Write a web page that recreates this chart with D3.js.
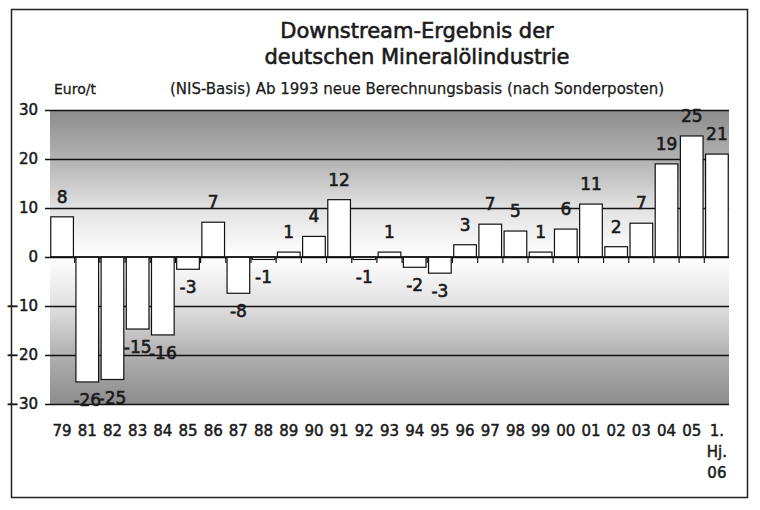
<!DOCTYPE html>
<html>
<head>
<meta charset="utf-8">
<script src="https://cdn.jsdelivr.net/npm/d3@7"></script>
<style>
  body { margin: 0; background: #fff; }
  text { font-family: "DejaVu Sans", sans-serif; fill: #1a1a1a; }
</style>
</head>
<body>
<div id="main"></div>
<script>
// Daten: Downstream-Ergebnis in Euro/t
var kategorien = ["79", "81", "82", "83", "84", "85", "86", "87", "88", "89", "90", "91", "92", "93",
	"94", "95", "96", "97", "98", "99", "00", "01", "02", "03", "04", "05", "1. Hj. 06"];
var werte = [8.2, -25.5, -25.0, -14.7, -15.9, -2.5, 7.1, -7.4, -0.5, 1.0, 4.2, 11.7, -0.5, 1.0,
	-2.1, -3.3, 2.5, 6.7, 5.3, 1.0, 5.7, 10.8, 2.1, 6.9, 19.0, 24.7, 21.0];
var beschriftung = ["8", "-26", "-25", "-15", "-16", "-3", "7", "-8", "-1", "1", "4", "12", "-1", "1",
	"-2", "-3", "3", "7", "5", "1", "6", "11", "2", "7", "19", "25", "21"];
var yTicks = [-30, -20, -10, 0, 10, 20, 30];

// Konstanten für das Layout
var totalWidth = 760;
var totalHeight = 510;
var plotLeft = 50;
var plotRight = 729;
var plotTop = 110;
var plotBottom = 404;

var svg = d3.select("#main").append("svg")
	.attr("width", totalWidth)
	.attr("height", totalHeight);

var x = d3.scaleBand()
	.domain(kategorien)
	.range([plotLeft, plotRight])
	.paddingInner(0.1)
	.paddingOuter(0.03);

var y = d3.scaleLinear()
	.domain([-30, 30])
	.range([plotBottom, plotTop]);

// Rahmen um das Ganze
svg.append("rect")
	.attr("x", 11.5).attr("y", 9.5)
	.attr("width", 736).attr("height", 488)
	.attr("fill", "none")
	.attr("stroke", "#222")
	.attr("stroke-width", 1.5);

// Hintergrund mit Verlauf (oben und unten dunkel, bei 0 weiss)
var defs = svg.append("defs");
var verlauf = defs.append("linearGradient")
	.attr("id", "verlauf")
	.attr("gradientUnits", "userSpaceOnUse")
	.attr("x1", 0).attr("x2", 0)
	.attr("y1", y(30)).attr("y2", y(-30));
[[30, "#8c8c8c"], [20, "#b2b2b2"], [10, "#e2e2e2"], [0, "#ffffff"],
	[-10, "#e0e0e0"], [-20, "#b0b0b0"], [-30, "#8c8c8c"]].forEach(function(s) {
	verlauf.append("stop")
		.attr("offset", (30 - s[0]) / 60)
		.attr("stop-color", s[1]);
});

svg.append("rect")
	.attr("x", plotLeft).attr("y", y(30))
	.attr("width", plotRight - plotLeft)
	.attr("height", y(-30) - y(30))
	.attr("fill", "url(#verlauf)");

// Gitterlinien und y-Achse
var yAxis = d3.axisLeft(y)
	.tickValues(yTicks)
	.tickSize(-(plotRight - plotLeft) - 5)
	.tickPadding(5)
	.tickFormat(d3.format("d"));

var gy = svg.append("g")
	.attr("transform", "translate(" + plotLeft + ",0)")
	.call(yAxis);
gy.select(".domain").remove();
gy.selectAll(".tick line")
	.attr("x1", -5)
	.attr("x2", plotRight - plotLeft)
	.attr("stroke", "#111")
	.attr("stroke-width", 1.4);
gy.selectAll(".tick text")
	.attr("x", -12)
	.style("font-size", "15px")
	.style("font-family", "'DejaVu Sans', sans-serif")
	.attr("fill", "#1a1a1a")
	.attr("stroke", "#1a1a1a")
	.attr("stroke-width", 0.5);

// Balken
svg.selectAll("rect.balken")
	.data(werte)
	.enter().append("rect")
	.attr("class", "balken")
	.attr("x", function(d, i) { return x(kategorien[i]); })
	.attr("width", x.bandwidth())
	.attr("y", function(d) { return y(Math.max(0, d)); })
	.attr("height", function(d) { return Math.abs(y(d) - y(0)); })
	.attr("fill", "#fff")
	.attr("stroke", "#111")
	.attr("stroke-width", 1.2);

// Nulllinie mit Teilstrichen zwischen den Kategorien
svg.append("line")
	.attr("x1", plotLeft).attr("x2", plotRight)
	.attr("y1", y(0)).attr("y2", y(0))
	.attr("stroke", "#111")
	.attr("stroke-width", 1.4);

var grenzen = kategorien.slice(1).map(function(k) {
	return x(k) - x.step() * x.paddingInner() / 2;
});
svg.selectAll("line.teil")
	.data(grenzen)
	.enter().append("line")
	.attr("class", "teil")
	.attr("x1", function(d) { return d; })
	.attr("x2", function(d) { return d; })
	.attr("y1", y(0))
	.attr("y2", y(0) + 6)
	.attr("stroke", "#111")
	.attr("stroke-width", 1.2);

// Werte an den Balken
svg.selectAll("text.wert")
	.data(werte)
	.enter().append("text")
	.attr("class", "wert")
	.attr("text-anchor", "middle")
	.attr("x", function(d, i) { return x(kategorien[i]) + x.bandwidth() / 2; })
	.attr("y", function(d) { return d >= 0 ? y(d) - 20 + 6 : y(d) + 18 + 6; })
	.attr("stroke", "#1a1a1a")
	.attr("stroke-width", 0.6)
	.style("font-size", "17px")
	.text(function(d, i) { return beschriftung[i]; });

// Kategorien unter der Grafik (mehrzeilig für "1. Hj. 06")
var kat = svg.selectAll("text.kat")
	.data(kategorien)
	.enter().append("text")
	.attr("class", "kat")
	.attr("text-anchor", "middle")
	.attr("y", 436)
	.attr("stroke", "#1a1a1a")
	.attr("stroke-width", 0.5)
	.style("font-size", "15px");
kat.selectAll("tspan")
	.data(function(d) { return d.split(" ").map(function(t) { return { t: t, k: d }; }); })
	.enter().append("tspan")
	.attr("x", function(d) { return x(d.k) + x.bandwidth() / 2; })
	.attr("dy", function(d, i) { return i === 0 ? 0 : 21; })
	.text(function(d) { return d.t; });

// Titel
svg.append("text")
	.attr("x", 417).attr("y", 38)
	.attr("text-anchor", "middle")
	.attr("stroke", "#1a1a1a")
	.attr("stroke-width", 0.6)
	.style("font-size", "21px")
	.text("Downstream-Ergebnis der");
svg.append("text")
	.attr("x", 417).attr("y", 64)
	.attr("text-anchor", "middle")
	.attr("stroke", "#1a1a1a")
	.attr("stroke-width", 0.6)
	.style("font-size", "21px")
	.text("deutschen Mineralölindustrie");
svg.append("text")
	.attr("x", 417).attr("y", 94)
	.attr("text-anchor", "middle")
	.attr("stroke", "#1a1a1a")
	.attr("stroke-width", 0.25)
	.style("font-size", "15px")
	.text("(NIS-Basis) Ab 1993 neue Berechnungsbasis (nach Sonderposten)");
svg.append("text")
	.attr("x", 54).attr("y", 94)
	.attr("stroke", "#1a1a1a")
	.attr("stroke-width", 0.3)
	.style("font-size", "14px")
	.text("Euro/t");
</script>
</body>
</html>
